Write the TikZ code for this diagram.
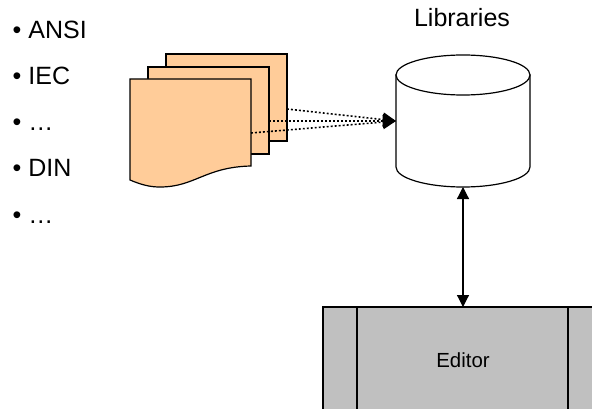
\documentclass[tikz,border=0pt]{standalone}
\usepackage{fontspec}
\setmainfont{Liberation Sans}
\usetikzlibrary{arrows.meta}
\definecolor{docfill}{HTML}{FFCC99}
\definecolor{edfill}{HTML}{C0C0C0}
\tikzset{
  shapeline/.style={draw=black,line width=1.2pt,line join=miter},
  docsheet/.style={shapeline,fill=docfill},
  label/.style={inner sep=0pt,anchor=base,font=\fontsize{25}{25}\selectfont},
  listitem/.style={label,anchor=base west},
  dotlink/.style={line width=1.6pt,dash pattern=on 1.9pt off 2.1pt,-{Triangle[length=13pt,width=14pt]}},
  duallink/.style={line width=1.2pt,{Triangle[length=12pt,width=12pt]}-{Triangle[length=12pt,width=12pt]}}
}
\begin{document}
\begin{tikzpicture}[x=1pt,y=-1pt]
\useasboundingbox (0,0) rectangle (592,409);
\clip (0,0) rectangle (592,409);
% documents
\draw[docsheet] (166,54) -- (287,54) -- (287,141) -- (166,141) -- cycle;
\draw[docsheet] (148,67) -- (269,67) -- (269,154) -- (148,154) -- cycle;
\draw[docsheet] (130,79) -- (251,79) -- (251,166) .. controls (205,167) and (195,187) .. (160,187) .. controls (150,187) and (142,185) .. (130,180) -- cycle;
\coordinate (d1) at (287,109);
\coordinate (d2) at (269,121);
\coordinate (d3) at (251,133);
\coordinate (cylW) at (396,121);
\coordinate (cylS) at (463,187);
% cylinder
\draw[shapeline,fill=white] (396,75) -- (396,167) arc[start angle=180,end angle=0,x radius=67,y radius=20] -- (530,75) -- cycle;
\draw[shapeline,fill=white] (463,75) ellipse[x radius=67,y radius=20];
% editor
\draw[shapeline,fill=edfill] (323,307) rectangle (602,420);
\draw[shapeline] (357,307) -- (357,420);
\draw[shapeline] (568,307) -- (568,420);
\coordinate (edN) at (463,307);
\node[label,font=\fontsize{20.4}{20.4}\selectfont] (editor) at (463,367) {Editor};
\node[label] (libs) at (462,27) {Libraries};
% links
\draw[dotlink] (d1) -- (cylW);
\draw[dotlink] (d2) -- (cylW);
\draw[dotlink] (d3) -- (cylW);
\draw[duallink] (cylS) -- (edN);
% list
\node[listitem] (i1) at (12.5,38.5) {• ANSI};
\node[listitem] (i2) at (12.5,85) {• IEC};
\node[listitem] (i3) at (12.5,131) {• …};
\node[listitem] (i4) at (12.5,177) {• DIN};
\node[listitem] (i5) at (12.5,223) {• …};
\end{tikzpicture}
\end{document}
